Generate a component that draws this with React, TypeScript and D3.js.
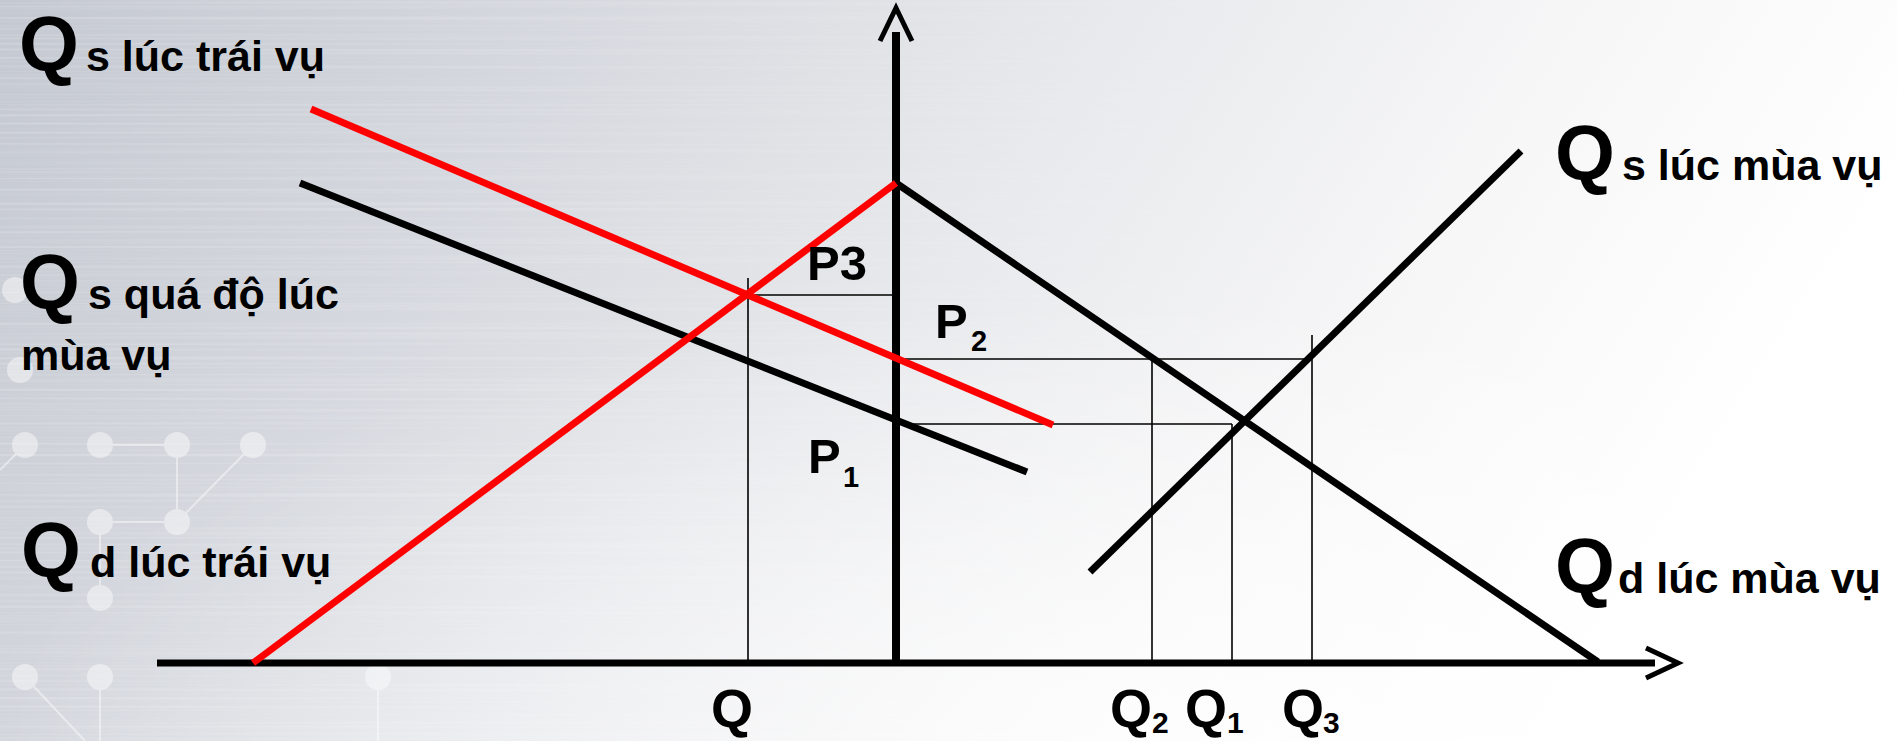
import React, { useEffect, useRef } from "react";
import * as d3 from "d3";

// units: 10 px per unit, origin at the left end of the Q axis
const priceAxisX = 73.9;
const qAxisEnd = 152.1;
const pAxisEnd = 65.5;

// curves: [x1, y1, x2, y2]
const curveNames = ["Qs trái vụ", "Qs quá độ", "Qd trái vụ", "Qd mùa vụ", "Qs mùa vụ"];
const curveX1 = [15.4, 14.3, 9.6, 73.9, 93.3];
const curveY1 = [55.4, 48.0, 0, 48.0, 9.1];
const curveX2 = [89.6, 87.0, 73.9, 144.1, 136.4];
const curveY2 = [23.8, 19.1, 48.0, 0.1, 51.2];
const curveRed = [true, false, true, false, false];

// price levels and quantities
const priceNames = ["P3", "P2", "P1"];
const priceLevels = [36.8, 30.4, 23.9];
const priceFrom = [59.1, 73.9, 73.9];
const priceTo = [73.5, 115.5, 107.5];

const qtyNames = ["Q", "Q2", "Q1", "Q3"];
const qtyValues = [59.1, 99.5, 107.5, 115.5];
const qtyTop = [38.5, 30.4, 23.9, 32.8];

// background dots
const dotX = [25, 100, 177, 253, 100, 177, 100, 25, 100, 378, 15, 20];
const dotY = [445, 445, 445, 445, 522, 522, 598, 677, 677, 677, 290, 370];
const dotLinks = [[1, 2], [2, 5], [3, 5], [4, 5], [4, 6]];

const W = 1897;
const H = 741;
const FONT = "'Liberation Sans', Arial, sans-serif";

export default function App() {
  const ref = useRef<SVGSVGElement>(null);

  useEffect(() => {
    const svg = d3.select(ref.current);
    svg.selectAll("*").remove();

    const x = d3.scaleLinear().domain([0, 150]).range([157, 1657]);
    const y = d3.scaleLinear().domain([0, 65]).range([663, 13]);

    const defs = svg.append("defs");
    const bg = defs.append("linearGradient").attr("id", "bg").attr("x1", 0).attr("x2", 1).attr("y1", 0).attr("y2", 0.25);
    [["0", "#c4c8d0"], ["0.3", "#d6d9df"], ["0.55", "#e8e9ec"], ["0.8", "#f7f7f8"], ["1", "#ffffff"]].forEach(([o, c]) =>
      bg.append("stop").attr("offset", o).attr("stop-color", c)
    );
    const glow = defs.append("radialGradient").attr("id", "glow").attr("cx", 0.6).attr("cy", 1).attr("r", 0.6);
    glow.append("stop").attr("offset", "0").attr("stop-color", "#ffffff").attr("stop-opacity", 0.8);
    glow.append("stop").attr("offset", "1").attr("stop-color", "#ffffff").attr("stop-opacity", 0);
    const fade = defs.append("linearGradient").attr("id", "fade").attr("x1", 0).attr("x2", 1);
    fade.append("stop").attr("offset", "0").attr("stop-color", "#fff").attr("stop-opacity", 1);
    fade.append("stop").attr("offset", "0.7").attr("stop-color", "#fff").attr("stop-opacity", 0);
    defs.append("mask").attr("id", "fadeMask").append("rect").attr("width", W).attr("height", H).attr("fill", "url(#fade)");
    const brush = defs.append("filter").attr("id", "brush").attr("x", 0).attr("y", 0).attr("width", 1).attr("height", 1);
    brush.append("feTurbulence").attr("type", "fractalNoise").attr("baseFrequency", "0.0008 0.35").attr("numOctaves", 2).attr("seed", 3);
    brush.append("feColorMatrix").attr("type", "matrix").attr("values", "0 0 0 0 1  0 0 0 0 1  0 0 0 0 1  1.2 0 0 0 -0.55");

    svg.append("rect").attr("width", W).attr("height", H).attr("fill", "url(#bg)");
    svg.append("rect").attr("width", W).attr("height", H).attr("filter", "url(#brush)").attr("mask", "url(#fadeMask)").attr("opacity", 0.55);
    svg.append("rect").attr("width", W).attr("height", H).attr("fill", "url(#glow)");

    const deco = svg.append("g").attr("opacity", 0.45);
    dotLinks.forEach(([a, b]) =>
      deco.append("line").attr("x1", dotX[a]).attr("y1", dotY[a]).attr("x2", dotX[b]).attr("y2", dotY[b]).attr("stroke", "#fff").attr("stroke-width", 2)
    );
    deco.append("line").attr("x1", 25).attr("y1", 445).attr("x2", 0).attr("y2", 470).attr("stroke", "#fff").attr("stroke-width", 2);
    deco.append("line").attr("x1", 25).attr("y1", 677).attr("x2", 85).attr("y2", 741).attr("stroke", "#fff").attr("stroke-width", 2);
    deco.append("line").attr("x1", 100).attr("y1", 677).attr("x2", 100).attr("y2", 741).attr("stroke", "#fff").attr("stroke-width", 2);
    deco.append("line").attr("x1", 378).attr("y1", 677).attr("x2", 378).attr("y2", 741).attr("stroke", "#fff").attr("stroke-width", 2);
    deco.selectAll("circle").data(dotX).join("circle")
      .attr("cx", (d) => d).attr("cy", (d, i) => dotY[i]).attr("r", 13).attr("fill", "#fff");

    // thin guide lines
    const guides = svg.append("g").attr("stroke", "#000").attr("stroke-width", 1.6);
    priceLevels.forEach((p, i) =>
      guides.append("line").attr("x1", x(priceFrom[i])).attr("x2", x(priceTo[i])).attr("y1", y(p)).attr("y2", y(p))
    );
    qtyValues.forEach((q, i) =>
      guides.append("line").attr("x1", x(q)).attr("x2", x(q)).attr("y1", y(qtyTop[i])).attr("y2", y(0))
    );

    // axes
    const axes = svg.append("g").attr("stroke", "#000").attr("fill", "none");
    axes.append("line").attr("x1", x(0)).attr("x2", x(149.8)).attr("y1", y(0)).attr("y2", y(0)).attr("stroke-width", 7);
    axes.append("line").attr("x1", x(priceAxisX)).attr("x2", x(priceAxisX)).attr("y1", y(0) + 3).attr("y2", y(63.1)).attr("stroke-width", 8);
    axes.append("path").attr("stroke-width", 5)
      .attr("d", `M${x(qAxisEnd) - 32},${y(0) - 15}L${x(qAxisEnd)},${y(0)}L${x(qAxisEnd) - 32},${y(0) + 15}`);
    axes.append("path").attr("stroke-width", 5)
      .attr("d", `M${x(priceAxisX) - 16},${y(pAxisEnd) + 33}L${x(priceAxisX)},${y(pAxisEnd)}L${x(priceAxisX) + 16},${y(pAxisEnd) + 33}`);

    // curves
    const lineGen = d3.line<[number, number]>().x((d) => x(d[0])).y((d) => y(d[1]));
    const order = [1, 3, 4, 0, 2];
    order.forEach((i) =>
      svg.append("path").attr("class", curveNames[i])
        .attr("d", lineGen([[curveX1[i], curveY1[i]], [curveX2[i], curveY2[i]]]))
        .attr("stroke", curveRed[i] ? "#ff0000" : "#000").attr("stroke-width", 7).attr("fill", "none")
    );

    // labels
    const txt = svg.append("g").attr("font-family", FONT).attr("font-weight", "bold").attr("fill", "#000");
    const big = (bx: number, by: number, letter: string, rest: string, rx: number) => {
      txt.append("text").attr("x", bx).attr("y", by).attr("font-size", 77).text("Q");
      txt.append("text").attr("x", rx).attr("y", by).attr("font-size", 43).text(letter + rest);
    };
    big(19, 71, "s", " lúc trái vụ", 86);
    big(20, 309, "s", " quá độ lúc", 88);
    txt.append("text").attr("x", 21).attr("y", 370).attr("font-size", 43).text("mùa vụ");
    big(21, 577, "d", " lúc trái vụ", 90);
    big(1555, 180, "s", " lúc mùa vụ", 1622);
    big(1555, 593, "d", " lúc mùa vụ", 1618);

    const sub = (px: number, py: number, main: string, s: string, size: number, subSize: number, sx: number, sy: number) => {
      txt.append("text").attr("x", px).attr("y", py).attr("font-size", size).text(main);
      if (s) txt.append("text").attr("x", sx).attr("y", sy).attr("font-size", subSize).text(s);
    };
    sub(807, 280, priceNames[0], "", 49, 29, 0, 0);
    sub(935, 338, "P", "2", 49, 29, 971, 351);
    sub(808, 473, "P", "1", 49, 29, 843, 487);
    sub(711, 727, qtyNames[0], "", 54, 30, 0, 0);
    sub(1110, 727, "Q", "2", 54, 30, 1152, 733);
    sub(1185, 727, "Q", "1", 54, 30, 1227, 733);
    sub(1282, 727, "Q", "3", 54, 30, 1323, 733);
  }, []);

  return (
    <svg ref={ref} width={W} height={H} style={{ position: "fixed", left: 0, top: 0 }} />
  );
}
